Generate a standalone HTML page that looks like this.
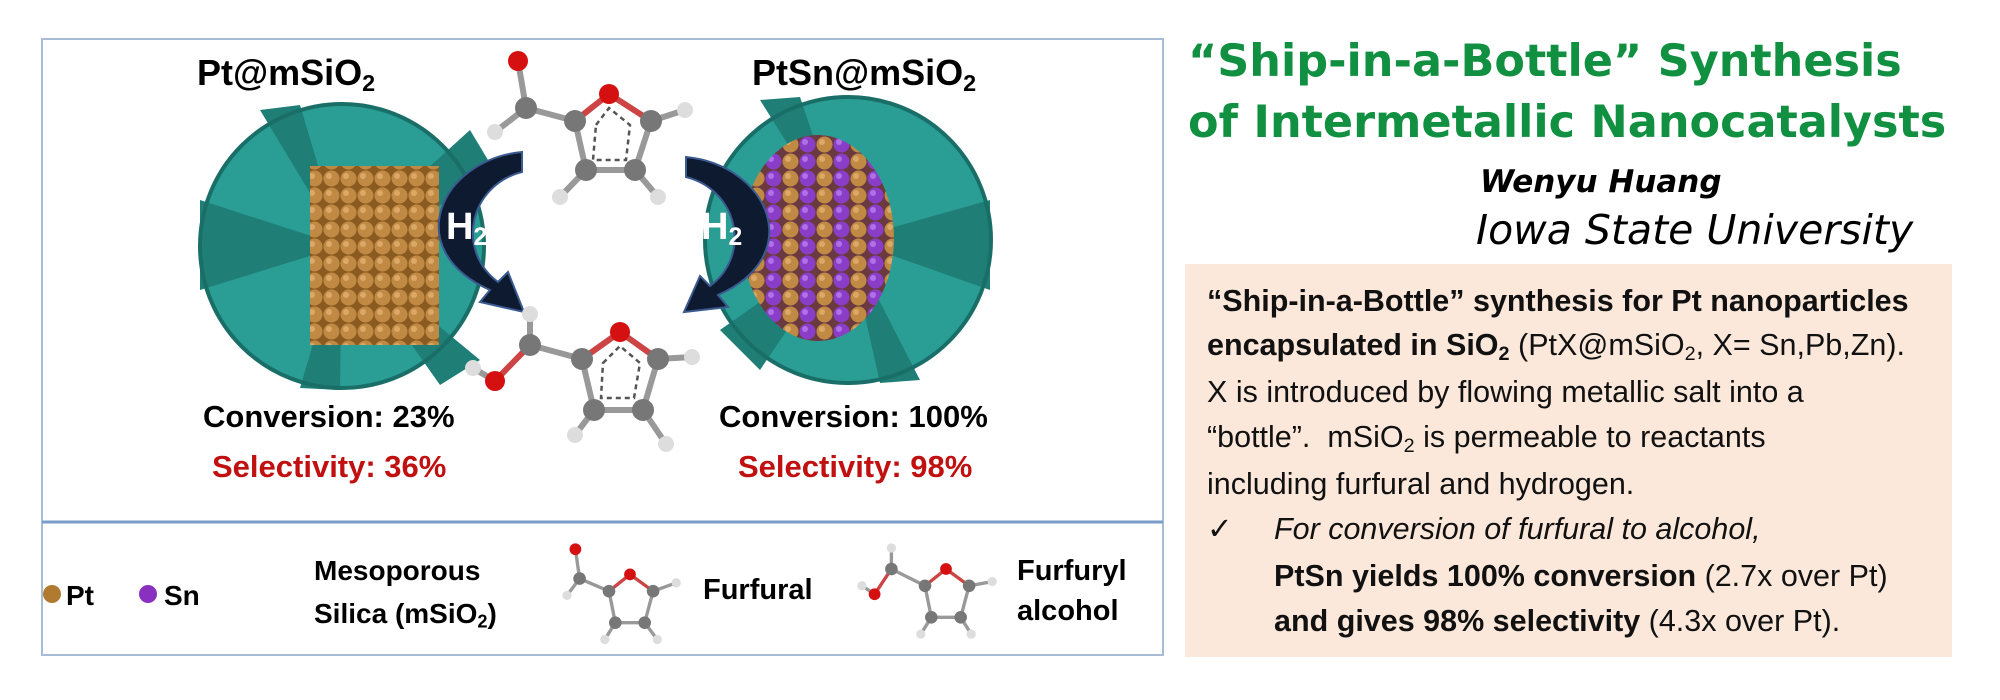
<!DOCTYPE html>
<html><head><meta charset="utf-8"><style>
html,body{margin:0;padding:0;background:#fff;}
#c{position:relative;width:2000px;height:700px;overflow:hidden;background:#fff;}
.t{position:absolute;white-space:nowrap;font-family:"Liberation Sans",Arial,sans-serif;font-weight:bold;}
.g{color:#109040;font-family:"DejaVu Sans","Liberation Sans",sans-serif;font-weight:bold;font-size:44.5px;letter-spacing:0px;}
.bx{position:absolute;left:1185px;top:264px;width:767px;height:393px;background:#fbe8da;}
.p{position:absolute;left:1207px;white-space:nowrap;font-family:"Liberation Sans Narrow","Liberation Sans",sans-serif;font-size:30.5px;color:#111;line-height:1;}
sub{font-size:65%;vertical-align:-0.25em;line-height:0;}
</style></head><body><div id="c">
<svg width="2000" height="700" style="position:absolute;left:0;top:0">
<defs>
<pattern id="pt" width="17" height="17" patternUnits="userSpaceOnUse"><rect width="17" height="17" fill="#8a5a20"/><circle cx="8.5" cy="8.5" r="8" fill="#c08a44"/><circle cx="6" cy="6" r="3" fill="#dba868"/></pattern>
<pattern id="ps" width="34" height="17" patternUnits="userSpaceOnUse"><rect width="34" height="17" fill="#6a3a40"/><circle cx="8.5" cy="8.5" r="8" fill="#c08a44"/><circle cx="25.5" cy="8.5" r="8" fill="#8a3ec8"/><circle cx="6" cy="6" r="3" fill="#dba868"/><circle cx="23" cy="6" r="3" fill="#b070e8"/></pattern>
<clipPath id="cl"><rect x="150" y="90" width="350" height="310"/></clipPath>
<clipPath id="cr"><rect x="690" y="80" width="320" height="320"/></clipPath>
</defs>
<rect x="42" y="39" width="1121" height="616" fill="none" stroke="#a8bcd8" stroke-width="2"/>
<line x1="42" y1="522" x2="1163" y2="522" stroke="#7a9cc8" stroke-width="3"/>
<g clip-path="url(#cl)">
<circle cx="342" cy="246" r="142" fill="#2a9e94"/>
<path d="M342 246 L200 200 L200 290Z M342 246 L260 110 L300 105Z M342 246 L470 130 L500 180Z M342 246 L480 360 L440 385Z M342 246 L300 388 L340 390Z" fill="#1f7e76"/>
<circle cx="342" cy="246" r="142" fill="none" stroke="#1a6e68" stroke-width="4"/>
</g>
<rect x="310" y="166" width="129" height="179" fill="url(#pt)"/>
<g clip-path="url(#cr)">
<circle cx="848" cy="240" r="143" fill="#2a9e94"/>
<path d="M848 240 L990 200 L990 290Z M848 240 L760 100 L800 97Z M848 240 L720 330 L760 370Z M848 240 L920 380 L880 383Z" fill="#1f7e76"/>
<circle cx="848" cy="240" r="143" fill="none" stroke="#1a6e68" stroke-width="4"/>
</g>
<ellipse cx="818" cy="238" rx="76" ry="103" fill="url(#ps)"/>
<path d="M522 152 C440 160 400 250 490 290 L480 302 L524 312 L508 272 L498 282 C455 250 470 185 522 172Z" fill="#0e1a30" stroke="#3a5a90" stroke-width="2"/>
<path d="M686 157 C768 165 808 255 718 295 L728 307 L684 312 L700 276 L710 286 C752 255 738 190 686 177Z" fill="#0e1a30" stroke="#3a5a90" stroke-width="2"/>
<g stroke="#999" stroke-width="6">
<line x1="518" y1="61" x2="526" y2="108"/><line x1="526" y1="108" x2="495" y2="132"/><line x1="526" y1="108" x2="575" y2="121"/>
<line x1="575" y1="121" x2="586" y2="170"/><line x1="586" y1="170" x2="635" y2="170"/><line x1="635" y1="170" x2="651" y2="121"/>
<line x1="651" y1="121" x2="685" y2="110"/><line x1="586" y1="170" x2="560" y2="197"/><line x1="635" y1="170" x2="658" y2="197"/>
<line x1="575" y1="121" x2="609" y2="94" stroke="#c44"/><line x1="651" y1="121" x2="609" y2="94" stroke="#c44"/>
</g>
<polygon points="596,125 609,108 630,125 626,160 593,160" fill="none" stroke="#555" stroke-width="2.5" stroke-dasharray="5,4"/>
<g><circle cx="518" cy="61" r="10" fill="#d41010"/><circle cx="526" cy="108" r="11" fill="#777"/><circle cx="495" cy="132" r="8" fill="#ddd"/>
<circle cx="609" cy="94" r="10" fill="#d41010"/><circle cx="575" cy="121" r="11" fill="#777"/><circle cx="651" cy="121" r="11" fill="#777"/>
<circle cx="586" cy="170" r="11" fill="#777"/><circle cx="635" cy="170" r="11" fill="#777"/>
<circle cx="685" cy="110" r="8" fill="#ddd"/><circle cx="560" cy="197" r="8" fill="#ddd"/><circle cx="658" cy="197" r="8" fill="#ddd"/></g>
<g stroke="#999" stroke-width="6">
<line x1="530" y1="314" x2="530" y2="345"/><line x1="530" y1="345" x2="495" y2="381" stroke="#c44"/><line x1="495" y1="381" x2="473" y2="368"/>
<line x1="530" y1="345" x2="582" y2="359"/><line x1="582" y1="359" x2="594" y2="410"/><line x1="594" y1="410" x2="643" y2="410"/>
<line x1="643" y1="410" x2="658" y2="359"/><line x1="658" y1="359" x2="692" y2="357"/><line x1="594" y1="410" x2="575" y2="435"/><line x1="643" y1="410" x2="666" y2="444"/>
<line x1="582" y1="359" x2="620" y2="332" stroke="#c44"/><line x1="658" y1="359" x2="620" y2="332" stroke="#c44"/>
</g>
<polygon points="603,363 620,346 640,363 634,398 601,398" fill="none" stroke="#555" stroke-width="2.5" stroke-dasharray="5,4"/>
<g><circle cx="530" cy="314" r="8" fill="#ddd"/><circle cx="530" cy="345" r="11" fill="#777"/><circle cx="495" cy="381" r="10" fill="#d41010"/><circle cx="473" cy="368" r="8" fill="#ddd"/>
<circle cx="620" cy="332" r="10" fill="#d41010"/><circle cx="582" cy="359" r="11" fill="#777"/><circle cx="658" cy="359" r="11" fill="#777"/>
<circle cx="594" cy="410" r="11" fill="#777"/><circle cx="643" cy="410" r="11" fill="#777"/>
<circle cx="692" cy="357" r="8" fill="#ddd"/><circle cx="575" cy="435" r="8" fill="#ddd"/><circle cx="666" cy="444" r="8" fill="#ddd"/></g>
<circle cx="52" cy="594" r="9" fill="#b07a30"/><circle cx="148" cy="594" r="9" fill="#8a30c0"/>
<g transform="translate(567,545) scale(0.42)">
<g stroke="#999" stroke-width="8"><line x1="20" y1="10" x2="30" y2="80"/><line x1="30" y1="80" x2="0" y2="120"/><line x1="30" y1="80" x2="100" y2="110"/><line x1="100" y1="110" x2="115" y2="185"/><line x1="115" y1="185" x2="185" y2="185"/><line x1="185" y1="185" x2="205" y2="110"/><line x1="205" y1="110" x2="260" y2="90"/><line x1="115" y1="185" x2="90" y2="225"/><line x1="185" y1="185" x2="215" y2="225"/><line x1="100" y1="110" x2="150" y2="70" stroke="#c44"/><line x1="205" y1="110" x2="150" y2="70" stroke="#c44"/></g>
<circle cx="20" cy="10" r="14" fill="#d41010"/><circle cx="30" cy="80" r="15" fill="#777"/><circle cx="0" cy="120" r="11" fill="#ddd"/><circle cx="150" cy="70" r="14" fill="#d41010"/><circle cx="100" cy="110" r="15" fill="#777"/><circle cx="205" cy="110" r="15" fill="#777"/><circle cx="115" cy="185" r="15" fill="#777"/><circle cx="185" cy="185" r="15" fill="#777"/><circle cx="260" cy="90" r="11" fill="#ddd"/><circle cx="90" cy="225" r="11" fill="#ddd"/><circle cx="215" cy="225" r="11" fill="#ddd"/></g>
<g transform="translate(862,548) scale(0.42)">
<g stroke="#999" stroke-width="8"><line x1="70" y1="0" x2="70" y2="50"/><line x1="70" y1="50" x2="30" y2="110" stroke="#c44"/><line x1="30" y1="110" x2="0" y2="90"/><line x1="70" y1="50" x2="150" y2="90"/><line x1="150" y1="90" x2="165" y2="165"/><line x1="165" y1="165" x2="235" y2="165"/><line x1="235" y1="165" x2="255" y2="90"/><line x1="255" y1="90" x2="310" y2="80"/><line x1="165" y1="165" x2="140" y2="205"/><line x1="235" y1="165" x2="260" y2="205"/><line x1="150" y1="90" x2="200" y2="50" stroke="#c44"/><line x1="255" y1="90" x2="200" y2="50" stroke="#c44"/></g>
<circle cx="70" cy="0" r="11" fill="#ddd"/><circle cx="70" cy="50" r="15" fill="#777"/><circle cx="30" cy="110" r="14" fill="#d41010"/><circle cx="0" cy="90" r="11" fill="#ddd"/><circle cx="200" cy="50" r="14" fill="#d41010"/><circle cx="150" cy="90" r="15" fill="#777"/><circle cx="255" cy="90" r="15" fill="#777"/><circle cx="165" cy="165" r="15" fill="#777"/><circle cx="235" cy="165" r="15" fill="#777"/><circle cx="310" cy="80" r="11" fill="#ddd"/><circle cx="140" cy="205" r="11" fill="#ddd"/><circle cx="260" cy="205" r="11" fill="#ddd"/></g>
</svg>
<div class="t" style="left:197px;top:52px;font-size:36px;">Pt@mSiO<sub>2</sub></div>
<div class="t" style="left:752px;top:52px;font-size:36px;">PtSn@mSiO<sub>2</sub></div>
<div class="t" style="left:446px;top:206px;font-size:38px;color:#fff;">H<sub>2</sub></div>
<div class="t" style="left:701px;top:206px;font-size:38px;color:#fff;">H<sub>2</sub></div>
<div class="t" style="left:203px;top:399px;font-size:31px;">Conversion: 23%</div>
<div class="t" style="left:212px;top:449px;font-size:31px;color:#c01010;">Selectivity: 36%</div>
<div class="t" style="left:719px;top:399px;font-size:31px;">Conversion: 100%</div>
<div class="t" style="left:738px;top:449px;font-size:31px;color:#c01010;">Selectivity: 98%</div>
<div class="t" style="left:66px;top:580px;font-size:28px;">Pt</div>
<div class="t" style="left:164px;top:580px;font-size:28px;">Sn</div>
<div class="t" style="left:314px;top:555px;font-size:28px;">Mesoporous</div>
<div class="t" style="left:314px;top:598px;font-size:28px;">Silica (mSiO<sub>2</sub>)</div>
<div class="t" style="left:703px;top:574px;font-size:29px;">Furfural</div>
<div class="t" style="left:1017px;top:555px;font-size:29px;">Furfuryl</div>
<div class="t" style="left:1017px;top:595px;font-size:29px;">alcohol</div>
<div class="t g" style="left:1188px;top:36px;">“Ship-in-a-Bottle” Synthesis</div>
<div class="t g" style="left:1188px;top:97px;">of Intermetallic Nanocatalysts</div>
<div class="t" style="left:1480px;top:164px;font-size:31px;font-style:italic;font-family:'DejaVu Sans',sans-serif;">Wenyu Huang</div>
<div class="t" style="left:1476px;top:206px;font-size:41px;font-style:italic;font-weight:normal;font-family:'DejaVu Sans',sans-serif;">Iowa State University</div>
<div class="bx"></div>
<div class="p" style="top:286px;"><b>“Ship-in-a-Bottle” synthesis for Pt nanoparticles</b></div>
<div class="p" style="top:330px;"><b>encapsulated in SiO<sub>2</sub></b> (PtX@mSiO<sub>2</sub>, X= Sn,Pb,Zn).</div>
<div class="p" style="top:377px;">X is introduced by flowing metallic salt into a</div>
<div class="p" style="top:422px;">“bottle”.&nbsp; mSiO<sub>2</sub> is permeable to reactants</div>
<div class="p" style="top:469px;">including furfural and hydrogen.</div>
<div class="p" style="top:514px;">✓</div>
<div class="p" style="top:514px;left:1274px;"><i>For conversion of furfural to alcohol,</i></div>
<div class="p" style="top:561px;left:1274px;"><b>PtSn yields 100% conversion</b> (2.7x over Pt)</div>
<div class="p" style="top:606px;left:1274px;"><b>and gives 98% selectivity</b> (4.3x over Pt).</div>
</div></body></html>
